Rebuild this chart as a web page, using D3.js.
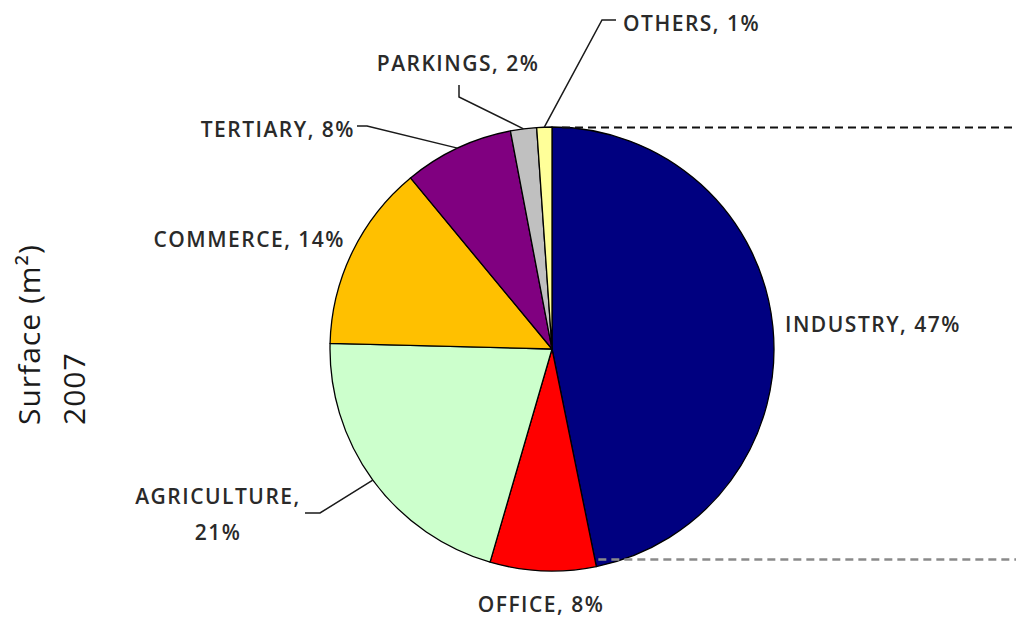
<!DOCTYPE html>
<html>
<head>
<meta charset="utf-8">
<script src="https://cdn.jsdelivr.net/npm/d3@7"></script>
<style>
  html, body { margin: 0; padding: 0; background: #fff; }
  svg { display: block; }
</style>
</head>
<body>
<svg id="chart" width="1016" height="620"></svg>
<script>
// ---- data ----
const categories = ["INDUSTRY", "OFFICE", "AGRICULTURE", "COMMERCE", "TERTIARY", "PARKINGS", "OTHERS"];
const values = [46.8, 7.7, 20.9, 13.6, 8.0, 1.9, 1.1];
const percentLabels = ["47%", "8%", "21%", "14%", "8%", "2%", "1%"];
const colors = ["#000080", "#FF0000", "#CCFFCC", "#FFC000", "#800080", "#C0C0C0", "#FFFF99"];
const titleLines = ["Surface (m²)", "2007"];

// ---- layout (styling only) ----
const W = 1016, H = 620;
const cx = 552, cy = 349, R = 222;
const labelLayout = [
  { x: 785, y: 332, anchor: "start", lines: 1 },
  { x: 541, y: 612, anchor: "middle", lines: 1 },
  { x: 218, y: 504, anchor: "middle", lines: 2, leader: [[320, 513], [305, 513]] },
  { x: 345, y: 247, anchor: "end", lines: 1 },
  { x: 355, y: 137, anchor: "end", lines: 1, leader: [[367, 126], [357, 126]] },
  { x: 458, y: 71, anchor: "middle", lines: 1, leader: [[459, 97], [459, 85]] },
  { x: 623, y: 31, anchor: "start", lines: 1, leader: [[602, 20], [616, 20]] }
];

const svg = d3.select("#chart");
const font = "'Open Sans', 'Liberation Sans', sans-serif";

const data = categories.map((c, i) => ({ cat: c, value: values[i], pct: percentLabels[i], color: colors[i], i }));
const pie = d3.pie().value(d => d.value).sort(null).startAngle(0).endAngle(2 * Math.PI);
const arcs = pie(data);
const arc = d3.arc().innerRadius(0).outerRadius(R);

const g = svg.append("g").attr("transform", `translate(${cx},${cy})`);

// connector dashed lines (pie-of-pie style)
const industryArc = arcs[0];
const endPt = [cx + R * Math.sin(industryArc.endAngle), cy - R * Math.cos(industryArc.endAngle)];
svg.append("line")
  .attr("x1", cx + 10).attr("y1", cy - R + 0.5).attr("x2", W).attr("y2", cy - R + 0.5)
  .attr("stroke", "#111").attr("stroke-width", 2).attr("stroke-dasharray", "8,5");
svg.append("line")
  .attr("x1", endPt[0] + 2).attr("y1", endPt[1] - 7).attr("x2", W).attr("y2", endPt[1] - 7)
  .attr("stroke", "#8a8a8a").attr("stroke-width", 2.5).attr("stroke-dasharray", "8,5");

g.selectAll("path.slice")
  .data(arcs)
  .join("path")
  .attr("class", "slice")
  .attr("d", arc)
  .attr("fill", d => d.data.color)
  .attr("stroke", "#000")
  .attr("stroke-width", 1.3)
  .attr("stroke-linejoin", "round");

// leader lines
arcs.forEach((a, i) => {
  const lay = labelLayout[i];
  if (!lay.leader) return;
  const mid = (a.startAngle + a.endAngle) / 2;
  const p0 = [cx + R * Math.sin(mid), cy - R * Math.cos(mid)];
  const pts = [p0, ...lay.leader];
  svg.append("path")
    .attr("d", d3.line()(pts))
    .attr("fill", "none")
    .attr("stroke", "#1a1a1a")
    .attr("stroke-width", 1.5);
});

// labels
arcs.forEach((a, i) => {
  const lay = labelLayout[i];
  const t = svg.append("text")
    .attr("x", lay.x).attr("y", lay.y)
    .attr("text-anchor", lay.anchor)
    .attr("font-family", font)
    .attr("font-size", 21)
    .attr("font-weight", 600)
    .attr("letter-spacing", 1.5)
    .attr("fill", "#2a2a2a");
  if (lay.lines === 2) {
    t.append("tspan").attr("x", lay.x).text(a.data.cat + ",");
    t.append("tspan").attr("x", lay.x).attr("dy", 36).text(a.data.pct);
  } else {
    t.text(a.data.cat + ", " + a.data.pct);
  }
});

// title (rotated)
const title = svg.append("g");
title.append("text")
  .attr("transform", "translate(40,425) rotate(-90)")
  .attr("font-family", font).attr("font-size", 30).attr("letter-spacing", 1).attr("fill", "#1a1a1a")
  .text(titleLines[0]);
title.append("text")
  .attr("transform", "translate(85,425) rotate(-90)")
  .attr("font-family", font).attr("font-size", 30).attr("letter-spacing", 1).attr("fill", "#1a1a1a")
  .text(titleLines[1]);
</script>
</body>
</html>
